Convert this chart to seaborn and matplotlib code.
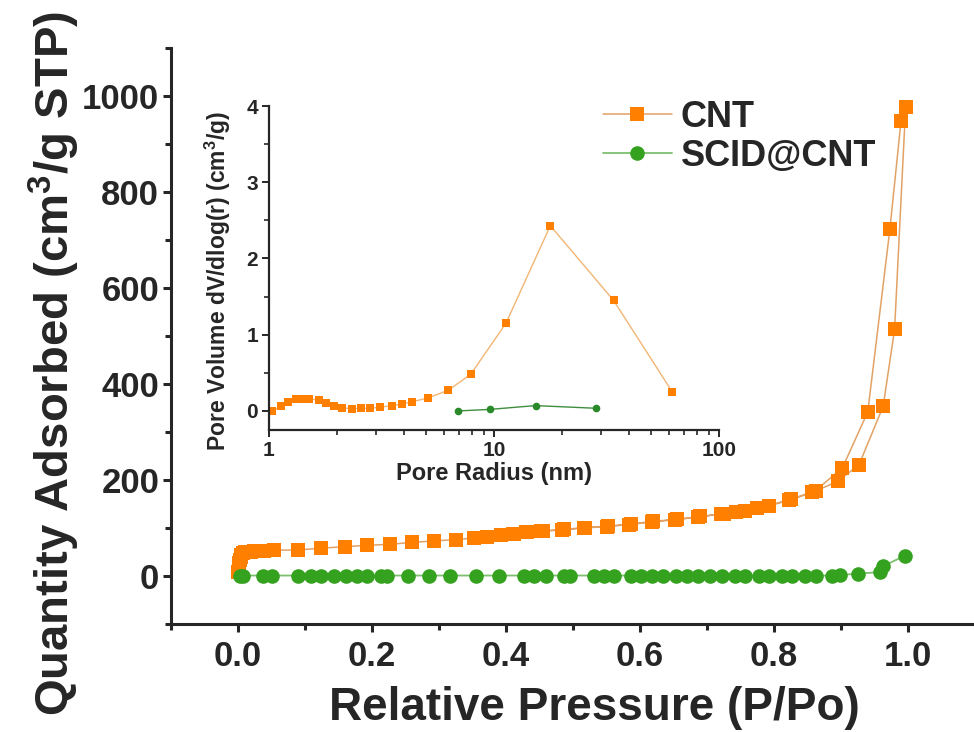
import matplotlib
matplotlib.use("Agg")
import matplotlib.pyplot as plt
import matplotlib.ticker as mticker
import seaborn as sns
import numpy as np
import pandas as pd

# ---------------- data ----------------
# CNT isotherm: adsorption branch then desorption branch
cnt_ads_p = [0.0005, 0.001, 0.0015, 0.002, 0.003, 0.004, 0.005, 0.007, 0.010, 0.014,
             0.019, 0.024, 0.039, 0.054, 0.089, 0.124, 0.159, 0.193, 0.227, 0.259,
             0.293, 0.325, 0.352, 0.372, 0.392, 0.412, 0.432, 0.452, 0.484, 0.516,
             0.550, 0.584, 0.618, 0.652, 0.687, 0.721, 0.743, 0.775, 0.823, 0.857,
             0.895, 0.927, 0.963, 0.980, 0.9965]
cnt_ads_q = [8, 15, 22, 28, 34, 40, 44, 47, 49, 50,
             51, 52, 53, 54, 54, 58, 61, 64, 66, 70,
             73, 76, 79, 82, 85, 88, 91, 93, 96, 100,
             103, 107, 113, 117, 123, 129, 133, 141, 158, 174,
             197, 232, 354, 514, 978]
cnt_des_p = [0.9896, 0.973, 0.940, 0.902, 0.862, 0.826, 0.792, 0.757, 0.725, 0.69,
             0.655, 0.62, 0.586, 0.552, 0.518, 0.486, 0.455, 0.43, 0.41]
cnt_des_q = [948, 723, 342, 225, 178, 160, 146, 136, 130, 124,
             118, 114, 108, 104, 101, 97, 94, 91, 88]

scid_p = [0.003, 0.007, 0.037, 0.051, 0.089, 0.109, 0.124, 0.144, 0.161, 0.178,
          0.193, 0.213, 0.223, 0.253, 0.285, 0.317, 0.355, 0.389, 0.427, 0.442,
          0.459, 0.486, 0.496, 0.531, 0.546, 0.561, 0.586, 0.601, 0.618, 0.635,
          0.653, 0.670, 0.687, 0.705, 0.722, 0.742, 0.757, 0.777, 0.792, 0.812,
          0.827, 0.847, 0.862, 0.886, 0.899, 0.925, 0.958, 0.962, 0.995]
scid_q = [0, 1, 1, 1, 1, 1, 1, 1, 1, 1,
          1, 1, 1, 1, 1, 1, 1, 1, 1, 1,
          1, 1, 1, 1, 1, 1, 1, 1, 1, 1,
          1, 1, 1, 1, 1, 1, 1, 1, 1, 1,
          1, 1, 1, 1, 2, 5, 8, 20, 42]

# inset: pore size distribution
psd_cnt_r = [1.03, 1.13, 1.22, 1.32, 1.41, 1.51, 1.66, 1.80, 1.95, 2.12,
             2.33, 2.57, 2.82, 3.13, 3.53, 3.89, 4.32, 5.08, 6.25, 7.88,
             11.3, 17.8, 34.0, 62.0]
psd_cnt_v = [0.0, 0.06, 0.12, 0.16, 0.16, 0.16, 0.14, 0.11, 0.06, 0.04,
             0.03, 0.035, 0.035, 0.05, 0.07, 0.09, 0.12, 0.17, 0.27, 0.48,
             1.15, 2.43, 1.45, 0.25]
psd_scid_r = [6.93, 9.55, 15.3, 28.4]
psd_scid_v = [0.0, 0.02, 0.07, 0.035]

series_labels = ["CNT", "SCID@CNT"]
x_ticks = [0.0, 0.2, 0.4, 0.6, 0.8, 1.0]
y_ticks = [0, 200, 400, 600, 800, 1000]

# ---------------- style ----------------
sns.set_style("ticks")
plt.rcParams['font.family'] = ['Liberation Sans', 'DejaVu Sans']
plt.rcParams['font.weight'] = 'bold'
plt.rcParams['axes.labelweight'] = 'bold'
plt.rcParams['mathtext.fontset'] = 'custom'
plt.rcParams['mathtext.rm'] = 'Liberation Sans:bold'
plt.rcParams['mathtext.default'] = 'rm'

ORANGE = '#FF7F00'
ORANGE_LINE = '#E2A266'
GREEN = '#34A11F'
GREEN_LINE = '#7DBF6E'
GREEN_DARK = '#2A8A2A'

fig = plt.figure(figsize=(9.74, 7.32), dpi=100)
ax = fig.add_axes([171/974, 108/732, 804/974, 576/732])

cnt_df = pd.DataFrame({"p": cnt_ads_p + cnt_des_p, "q": cnt_ads_q + cnt_des_q})
scid_df = pd.DataFrame({"p": scid_p, "q": scid_q})

sns.lineplot(data=cnt_df, x="p", y="q", ax=ax, sort=False, estimator=None,
             color=ORANGE_LINE, linewidth=1.1, marker='s', markersize=10,
             markerfacecolor=ORANGE, markeredgewidth=0, label=series_labels[0])
sns.lineplot(data=scid_df, x="p", y="q", ax=ax, sort=False, estimator=None,
             color=GREEN_LINE, linewidth=1.3, marker='o', markersize=10.5,
             markerfacecolor=GREEN, markeredgewidth=0, label=series_labels[1])

ax.set_xlim(-0.1, 1.1)
ax.set_ylim(-100, 1100)
ax.set_xticks(x_ticks)
ax.set_xticklabels([f"{v:.1f}" for v in x_ticks])
ax.set_yticks(y_ticks)
ax.xaxis.set_minor_locator(mticker.MultipleLocator(0.1))
ax.yaxis.set_minor_locator(mticker.MultipleLocator(100))
for s in ['top', 'right']:
    ax.spines[s].set_visible(False)
for s in ['left', 'bottom']:
    ax.spines[s].set_linewidth(2.2)
ax.tick_params(axis='both', which='major', direction='out', length=5.5, width=2.2,
               labelsize=25, pad=3)
ax.tick_params(axis='both', which='minor', direction='out', length=4.5, width=2.2)
ax.tick_params(axis='x', which='major', pad=6)
for t in ax.get_xticklabels() + ax.get_yticklabels():
    t.set_fontweight('bold')

ax.set_xlabel("Relative Pressure (P/Po)", fontsize=33, fontweight='bold')
ax.set_ylabel("Quantity Adsorbed (cm$^{3}$/g STP)", fontsize=34, fontweight='bold')
ax.xaxis.set_label_coords(0.527, -0.108)
ax.yaxis.set_label_coords(-0.111, 0.452)

leg = ax.legend(loc='upper left', bbox_to_anchor=(603/974, (732-100)/732),
                bbox_transform=fig.transFigure, frameon=False, fontsize=26,
                handlelength=1.9, handletextpad=0.25, labelspacing=0.1,
                borderpad=0, borderaxespad=0)
for t in leg.get_texts():
    t.set_fontweight('bold')

# ---------------- inset ----------------
ax2 = fig.add_axes([269/974, 302/732, 450/974, 324/732])
ax2.patch.set_alpha(0)
psd_cnt_df = pd.DataFrame({"r": psd_cnt_r, "v": psd_cnt_v})
psd_scid_df = pd.DataFrame({"r": psd_scid_r, "v": psd_scid_v})
sns.lineplot(data=psd_cnt_df, x="r", y="v", ax=ax2, sort=False, estimator=None,
             color='#F2B574', linewidth=1.0, marker='s', markersize=5.5,
             markerfacecolor=ORANGE, markeredgewidth=0)
sns.lineplot(data=psd_scid_df, x="r", y="v", ax=ax2, sort=False, estimator=None,
             color='#3E8E3E', linewidth=1.0, marker='o', markersize=5.5,
             markerfacecolor=GREEN_DARK, markeredgewidth=0)
ax2.set_xscale('log')
ax2.set_xlim(1, 100)
ax2.set_ylim(-0.25, 4)
ax2.set_xticks([1, 10, 100])
ax2.xaxis.set_major_formatter(mticker.FixedFormatter(["1", "10", "100"]))
ax2.xaxis.set_minor_locator(mticker.LogLocator(base=10, subs=np.arange(2, 10)))
ax2.xaxis.set_minor_formatter(mticker.NullFormatter())
ax2.set_yticks([0, 1, 2, 3, 4])
ax2.yaxis.set_minor_locator(mticker.MultipleLocator(0.5))
for s in ['top', 'right']:
    ax2.spines[s].set_visible(False)
for s in ['left', 'bottom']:
    ax2.spines[s].set_linewidth(1.6)
ax2.tick_params(axis='both', which='major', direction='out', length=5, width=1.4,
                labelsize=15, pad=3)
ax2.tick_params(axis='both', which='minor', direction='out', length=3.5, width=1.2)
for t in ax2.get_xticklabels() + ax2.get_yticklabels():
    t.set_fontweight('bold')
ax2.set_xlabel("Pore Radius (nm)", fontsize=17, fontweight='bold')
ax2.set_ylabel("Pore Volume dV/dlog(r) (cm$^{3}$/g)", fontsize=16.5, fontweight='bold')
ax2.xaxis.set_label_coords(0.5, -0.1)
ax2.yaxis.set_label_coords(-0.08, 0.46)

fig.savefig("out.png", dpi=100)
